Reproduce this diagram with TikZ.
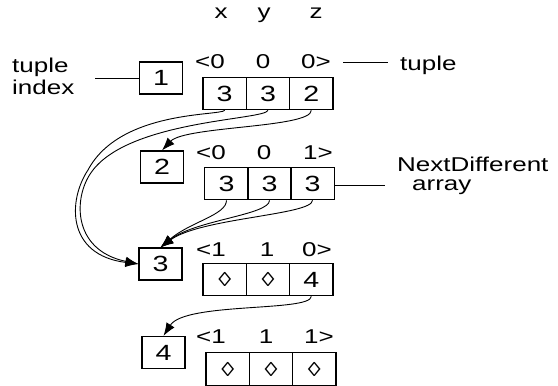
\documentclass[tikz,border=0pt]{standalone}
\usepackage{fontspec}
\usetikzlibrary{arrows.meta}
\newfontfamily\lsfam[FakeStretch=1.3]{Liberation Sans}
\newcommand\lsf{\lsfam\fontsize{20}{22}\selectfont}
\newcommand\lsfb{\lsfam\fontsize{22}{24}\selectfont}
\tikzset{
  txt/.style={font=\lsf, inner sep=0, anchor=base},
  ibox/.style={draw, line width=1.2pt, minimum width=43pt, minimum height=32pt, inner sep=0, font=\lsfb},
  cell/.style={draw, line width=1.2pt, minimum width=43.3pt, minimum height=32.5pt, inner sep=0, font=\lsfb},
  link/.style={line width=0.9pt, -{Latex[length=13pt,width=9.5pt]}},
  lead/.style={line width=0.9pt},
}
\begin{document}
\begin{tikzpicture}[x=1pt,y=-1pt]
\fill[white] (0,0) rectangle (558,386);
\useasboundingbox (0,0) rectangle (558,386);
% header
\node[txt] (hx) at (221,18) {x};
\node[txt] (hy) at (264,18) {y};
\node[txt] (hz) at (316,18) {z};
% row 1
\node[ibox] (b1) at (161,78) {1};
\node[txt] (t1a) at (210,68) {<0};
\node[txt] (t1b) at (263,68) {0};
\node[txt] (t1c) at (316,68) {0>};
\node[cell] (r1c1) at (224.7,93.5) {3};
\node[cell] (r1c2) at (268,93.5) {3};
\node[cell] (r1c3) at (311.3,93.5) {2};
% row 2
\node[ibox] (b2) at (162,167) {2};
\node[txt] (t2a) at (211,159) {<0};
\node[txt] (t2b) at (264,159) {0};
\node[txt] (t2c) at (318,159) {1>};
\node[cell] (r2c1) at (226.5,183.5) {3};
\node[cell] (r2c2) at (269.5,183.5) {3};
\node[cell] (r2c3) at (312.5,183.5) {3};
% row 3
\node[ibox] (b3) at (160.5,264) {3};
\node[txt] (t3a) at (211,256) {<1};
\node[txt] (t3b) at (267,256) {1};
\node[txt] (t3c) at (317,256) {0>};
\node[cell] (r3c1) at (224.7,279.5) {\lsf ◊};
\node[cell] (r3c2) at (268,279.5) {\lsf ◊};
\node[cell] (r3c3) at (311.3,279.5) {4};
% row 4
\node[ibox] (b4) at (163.5,352.5) {4};
\node[txt] (t4a) at (211,343) {<1};
\node[txt] (t4b) at (266,343) {1};
\node[txt] (t4c) at (319,343) {1>};
\node[cell] (r4c1) at (227.7,369) {\lsf ◊};
\node[cell] (r4c2) at (271,369) {\lsf ◊};
\node[cell] (r4c3) at (314.3,369) {\lsf ◊};
% side labels
\node[font=\lsf, inner sep=0, anchor=north west, align=left] (ti) at (12,58) {tuple\\index};
\coordinate (tiend) at (95,78);
\draw[lead] (tiend) -- (b1.west);
\node[txt, anchor=base west] (tup) at (400,70) {tuple};
\coordinate (tupa) at (343,62);
\coordinate (tupb) at (388,62);
\draw[lead] (tupa) -- (tupb);
\node[font=\lsf, inner sep=0, anchor=north west, align=left] (nd) at (397,157) {NextDifferent\\[-3pt]\hspace*{15pt}array};
\coordinate (ndend) at (385,185);
\draw[lead] (r2c3.east |- ndend) -- (ndend);
% links
\draw[link] (r1c3.south) .. controls (311,128) and (185,126) .. (b2.north);
\draw[link] (r1c1.south) .. controls (220,116) and (120,110) .. (88,170) .. controls (68,200) and (66,255) .. (b3.west);
\draw[link] (r1c2.south) .. controls (265,120) and (132,120) .. (93,170) .. controls (73,195) and (71,250) .. (b3.west);
\draw[link] (r2c1.south) .. controls (226.5,215) and (190,222) .. (b3.north);
\draw[link] (r2c2.south) .. controls (269.5,215) and (195,220) .. (b3.north);
\draw[link] (r2c3.south) .. controls (312.5,215) and (200,218) .. (b3.north);
\draw[link] (r3c3.south) .. controls (311,312) and (185,302) .. (b4.north);
\end{tikzpicture}
\end{document}
